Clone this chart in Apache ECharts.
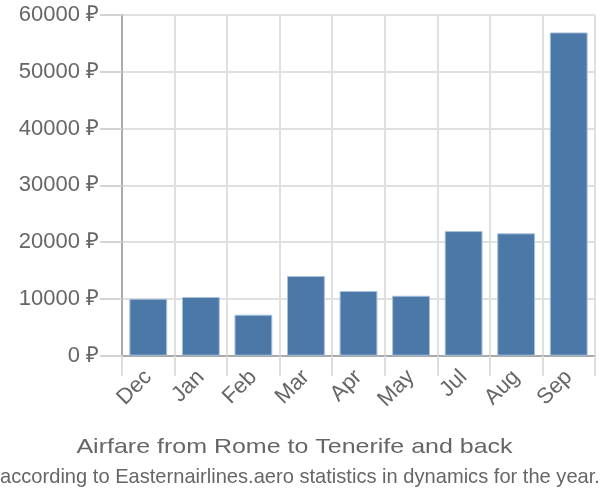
<!DOCTYPE html>
<html><head><meta charset="utf-8">
<script src="https://cdn.jsdelivr.net/npm/echarts@6/dist/echarts.min.js"></script>
<style>html,body{margin:0;padding:0;background:#fff}#c{width:600px;height:500px}</style>
</head><body><div id="c"></div>
<script>
const categories = ["Dec","Jan","Feb","Mar","Apr","May","Jul","Aug","Sep"];
const prices = [10030,10330,7220,14030,11390,10560,21950,21550,56930];
const yTicks = [0,10000,20000,30000,40000,50000,60000];
const titleText = "Airfare from Rome to Tenerife and back";
const subtitleText = "according to Easternairlines.aero statistics in dynamics for the year.";

const FONT = '"Liberation Sans", Arial, sans-serif';
const chart = echarts.init(document.getElementById('c'));
chart.setOption({
  animation:false,
  textStyle:{fontFamily:FONT},
  graphic:[
    {type:'text', x:294.5, y:447, scaleX:1.19,
      style:{text:titleText, x:0, y:0, fill:'#666', font:'21px '+FONT, textAlign:'center', textVerticalAlign:'middle', verticalAlign:'middle'}},
    {type:'text', x:300, y:477, scaleX:0.957,
      style:{text:subtitleText, x:0, y:0, fill:'#666', font:'21px '+FONT, textAlign:'center', textVerticalAlign:'middle', verticalAlign:'middle'}}
  ],
  grid:{left:122, right:5, top:15, bottom:144.3},
  xAxis:{type:'category', data:categories, boundaryGap:true,
    axisLine:{show:true, lineStyle:{color:'#aaa', width:2}},
    axisTick:{show:true, length:20, alignWithLabel:false, lineStyle:{color:'#ddd', width:2}},
    splitLine:{show:true, lineStyle:{color:'#e0e0e0', width:2}},
    axisLabel:{rotate:45, fontSize:22, color:'#666', margin:18}},
  yAxis:{type:'value', min:yTicks[0], max:yTicks[yTicks.length-1], interval:10000,
    axisLine:{show:true, lineStyle:{color:'#aaa', width:2}},
    axisTick:{show:true, length:22, lineStyle:{color:'#d4d4d4', width:2}},
    splitLine:{show:true, lineStyle:{color:'#e0e0e0', width:2}},
    axisLabel:{fontSize:22, color:'#666', margin:23, formatter:v=>v+' ₽'}},
  series:[{type:'bar', data:prices, barCategoryGap:'28%',
    itemStyle:{color:'#4c78a8', borderColor:'#a8c0dc', borderWidth:1}}]
});
</script></body></html>
